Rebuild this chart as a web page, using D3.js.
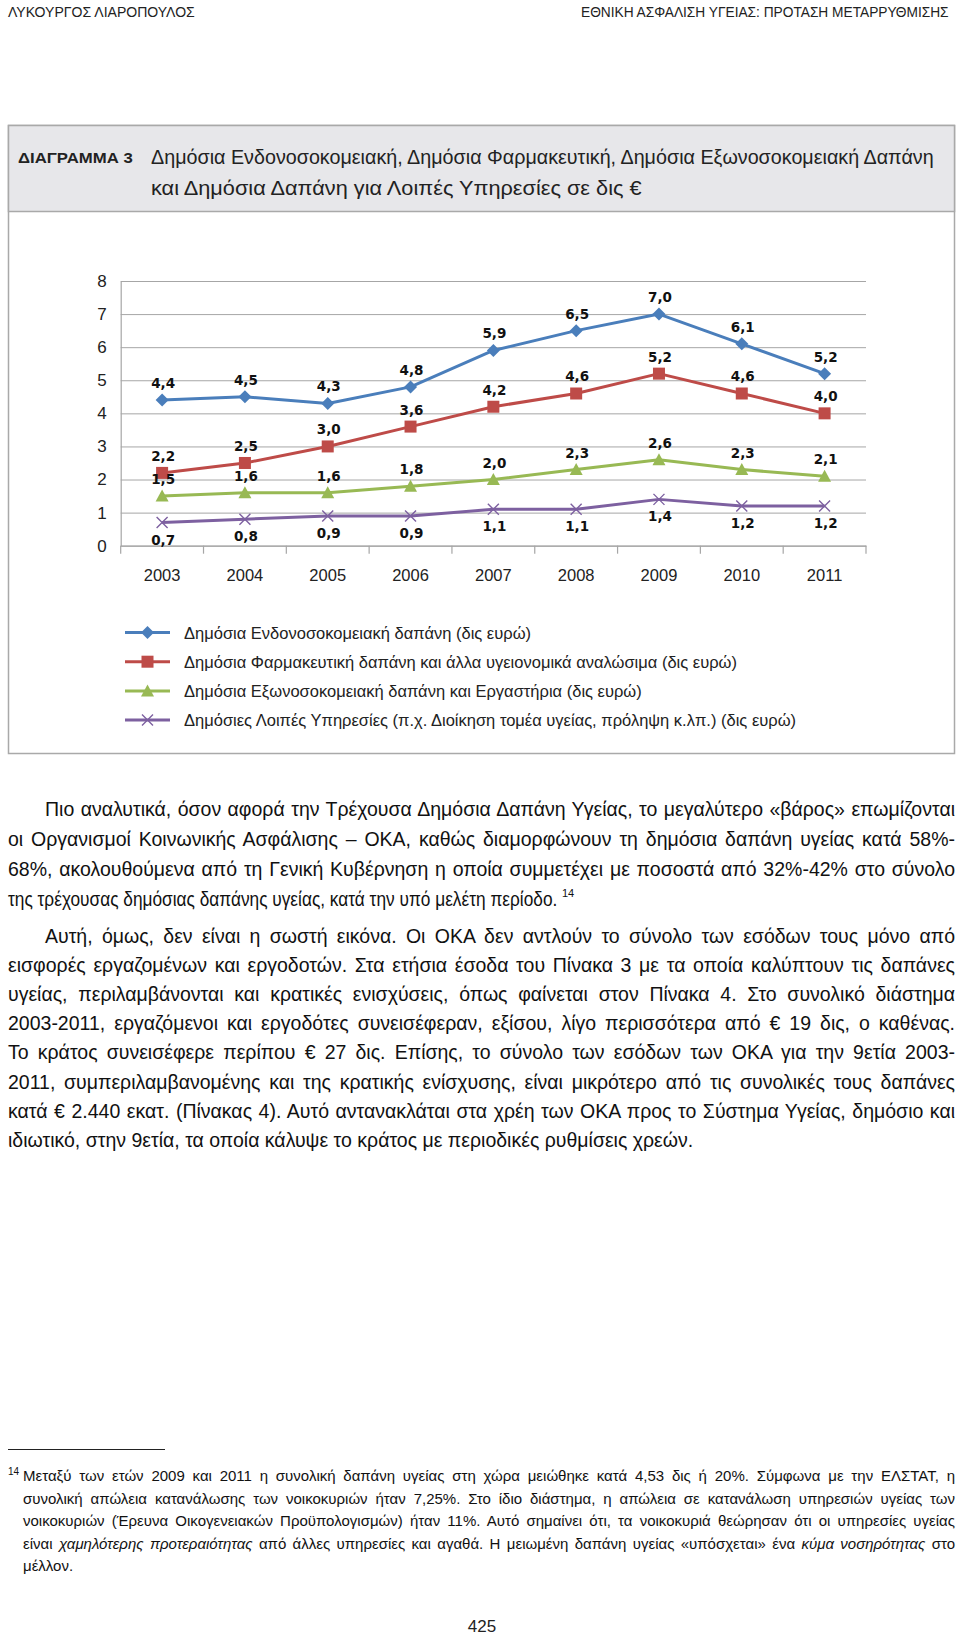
<!DOCTYPE html>
<html><head><meta charset="utf-8">
<script src="https://cdn.jsdelivr.net/npm/d3@7"></script>
<style>body{margin:0;background:#fff} svg{display:block}</style>
</head><body>
<svg id="page" width="960" height="1636"></svg>
<script>
// ---------- DATA ----------
const years = ["2003","2004","2005","2006","2007","2008","2009","2010","2011"];
const hospital   = [4.4,4.5,4.3,4.8,5.9,6.5,7.0,6.1,5.2];
const pharma     = [2.2,2.5,3.0,3.6,4.2,4.6,5.2,4.6,4.0];
const outpatient = [1.5,1.6,1.6,1.8,2.0,2.3,2.6,2.3,2.1];
const otherServ  = [0.7,0.8,0.9,0.9,1.1,1.1,1.4,1.2,1.2];
const seriesNames = [
  "Δημόσια Ενδονοσοκομειακή δαπάνη (δις ευρώ)",
  "Δημόσια Φαρμακευτική δαπάνη και άλλα υγειονομικά αναλώσιμα (δις ευρώ)",
  "Δημόσια Εξωνοσοκομειακή δαπάνη και Εργαστήρια (δις ευρώ)",
  "Δημόσιες Λοιπές Υπηρεσίες (π.χ. Διοίκηση τομέα υγείας, πρόληψη κ.λπ.) (δις ευρώ)"
];
const yTicks = [0,1,2,3,4,5,6,7,8];

const runningHeadLeft = "ΛΥΚΟΥΡΓΟΣ ΛΙΑΡΟΠΟΥΛΟΣ";
const runningHeadRight = "ΕΘΝΙΚΗ ΑΣΦΑΛΙΣΗ ΥΓΕΙΑΣ: ΠΡΟΤΑΣΗ ΜΕΤΑΡΡΥΘΜΙΣΗΣ";
const figLabel = "ΔΙΑΓΡΑΜΜΑ 3";
const figTitle = ["Δημόσια Ενδονοσοκομειακή, Δημόσια Φαρμακευτική, Δημόσια Εξωνοσοκομειακή Δαπάνη",
                  "και Δημόσια Δαπάνη για Λοιπές Υπηρεσίες σε δις €"];
const para1 = [
  "Πιο αναλυτικά, όσον αφορά την Τρέχουσα Δημόσια Δαπάνη Υγείας, το μεγαλύτερο «βάρος» επωμίζονται",
  "οι Οργανισμοί Κοινωνικής Ασφάλισης – ΟΚΑ, καθώς διαμορφώνουν τη δημόσια δαπάνη υγείας κατά 58%-",
  "68%, ακολουθούμενα από τη Γενική Κυβέρνηση η οποία συμμετέχει με ποσοστά από 32%-42% στο σύνολο",
  "της τρέχουσας δημόσιας δαπάνης υγείας, κατά την υπό μελέτη περίοδο."
];
const para2 = [
  "Αυτή, όμως, δεν είναι η σωστή εικόνα. Οι ΟΚΑ δεν αντλούν το σύνολο των εσόδων τους μόνο από",
  "εισφορές εργαζομένων και εργοδοτών. Στα ετήσια έσοδα του Πίνακα 3 με τα οποία καλύπτουν τις δαπάνες",
  "υγείας, περιλαμβάνονται και κρατικές ενισχύσεις, όπως φαίνεται στον Πίνακα 4. Στο συνολικό διάστημα",
  "2003-2011, εργαζόμενοι και εργοδότες συνεισέφεραν, εξίσου, λίγο περισσότερα από € 19 δις, ο καθένας.",
  "Το κράτος συνεισέφερε περίπου € 27 δις. Επίσης, το σύνολο των εσόδων των ΟΚΑ για την 9ετία 2003-",
  "2011, συμπεριλαμβανομένης και της κρατικής ενίσχυσης, είναι μικρότερο από τις συνολικές τους δαπάνες",
  "κατά € 2.440 εκατ. (Πίνακας 4). Αυτό αντανακλάται στα χρέη των ΟΚΑ προς το Σύστημα Υγείας, δημόσιο και",
  "ιδιωτικό, στην 9ετία, τα οποία κάλυψε το κράτος με περιοδικές ρυθμίσεις χρεών."
];
// footnote lines: arrays of [text, italic]
const footnote = [
  [["Μεταξύ των ετών 2009 και 2011 η συνολική δαπάνη υγείας στη χώρα μειώθηκε κατά 4,53 δις ή 20%. Σύμφωνα με την ΕΛΣΤΑΤ, η", false]],
  [["συνολική απώλεια κατανάλωσης των νοικοκυριών ήταν 7,25%. Στο ίδιο διάστημα, η απώλεια σε κατανάλωση υπηρεσιών υγείας των", false]],
  [["νοικοκυριών (Έρευνα Οικογενειακών Προϋπολογισμών) ήταν 11%. Αυτό σημαίνει ότι, τα νοικοκυριά θεώρησαν ότι οι υπηρεσίες υγείας", false]],
  [["είναι ", false],["χαμηλότερης προτεραιότητας", true],[" από άλλες υπηρεσίες και αγαθά. Η μειωμένη δαπάνη υγείας «υπόσχεται» ένα ", false],["κύμα νοσηρότητας", true],[" στο", false]],
  [["μέλλον.", false]]
];
const footnoteMark = "14";
const pageNumber = "425";

// ---------- LAYOUT ----------
const svg = d3.select("#page");
const TXT = "'Liberation Sans', Arial, sans-serif";
const blue="#4a7ebb", red="#be4b48", green="#98b954", purple="#7d60a0";

// horizontal scaling of a start-anchored text so that it spans `width`
function fit(sel, width){
  const w = sel.node().getComputedTextLength();
  const x0 = +sel.attr("x");
  const sx = width / w;
  sel.attr("transform", `translate(${x0},0) scale(${sx},1) translate(${-x0},0)`);
}
function justify(sel, width){
  const node = sel.node();
  const w = node.getComputedTextLength();
  const n = (node.textContent.match(/ /g)||[]).length;
  if (w < width && n > 0) {
    sel.style("word-spacing", ((width - w)/n) + "px");
    const w2 = node.getComputedTextLength();
    if (Math.abs(w2 - width) > 3) { sel.style("word-spacing", null); sel.attr("textLength", width).attr("lengthAdjust","spacing"); }
  } else if (w > width) fit(sel, width);
}

// running heads
fit(svg.append("text").attr("x",8).attr("y",17).attr("font-family",TXT).attr("font-size",15).attr("fill","#222").text(runningHeadLeft), 187);
fit(svg.append("text").attr("x",581).attr("y",17).attr("font-family",TXT).attr("font-size",15).attr("fill","#222").text(runningHeadRight), 368);

// figure box
svg.append("rect").attr("x",8.5).attr("y",125.5).attr("width",946).attr("height",628)
  .attr("fill","#fff").attr("stroke","#a9a9a9").attr("stroke-width",1.5);
svg.append("rect").attr("x",8.5).attr("y",125.5).attr("width",946).attr("height",86)
  .attr("fill","#e7e7ea").attr("stroke","#a9a9a9").attr("stroke-width",1.5);
fit(svg.append("text").attr("x",18).attr("y",163).attr("font-family",TXT).attr("font-weight","bold")
  .attr("font-size",15).attr("fill","#222").text(figLabel), 115);
fit(svg.append("text").attr("x",151).attr("y",164).attr("font-family",TXT).attr("font-size",19.5).attr("fill","#222").text(figTitle[0]), 783);
fit(svg.append("text").attr("x",151).attr("y",195).attr("font-family",TXT).attr("font-size",19.5).attr("fill","#222").text(figTitle[1]), 491);

// ---------- CHART ----------
const x = d3.scaleBand().domain(years).range([120.7, 866]);
const y = d3.scaleLinear().domain([0,8]).range([545.7, 281]);
const cx = d => x(d) + x.bandwidth()/2;
const g = svg.append("g");
const gridCol = "#a6a6a6";

// gridlines
const grid = g.append("g").call(d3.axisLeft(y).tickValues(yTicks).tickSize(-(x.range()[1]-x.range()[0])).tickFormat(""))
  .attr("transform", `translate(${x.range()[0]},0)`);
grid.select(".domain").remove();
grid.selectAll("line").attr("stroke", gridCol).attr("stroke-width",1);

// y axis labels + line
const yAx = g.append("g").attr("transform", `translate(${x.range()[0]},0)`)
  .call(d3.axisLeft(y).tickValues(yTicks).tickSize(0).tickPadding(14).tickFormat(d3.format("d")));
yAx.select(".domain").attr("stroke", gridCol).attr("stroke-width",1.2);
yAx.selectAll("text").attr("font-family",TXT).attr("font-size",17).attr("fill","#222");

// x axis
const xAx = g.append("g").attr("transform", `translate(0,${y(0)})`)
  .call(d3.axisBottom(x).tickSize(0).tickPadding(24));
xAx.select(".domain").attr("stroke", gridCol).attr("stroke-width",1.2);
xAx.selectAll("text").attr("font-family",TXT).attr("font-size",16.5).attr("fill","#222");
// boundary ticks
const bounds = years.map(d => x(d)).concat([x.range()[1]]);
g.append("g").selectAll("line").data(bounds).join("line")
  .attr("x1", d=>d).attr("x2", d=>d).attr("y1", y(0)).attr("y2", y(0)+8)
  .attr("stroke", gridCol).attr("stroke-width",1.2);

// series
const series = [
  {name: seriesNames[0], values: hospital,   color: blue,   marker: "diamond", pos: "above"},
  {name: seriesNames[1], values: pharma,     color: red,    marker: "square",  pos: "above"},
  {name: seriesNames[2], values: outpatient, color: green,  marker: "triangle",pos: "above"},
  {name: seriesNames[3], values: otherServ,  color: purple, marker: "x",       pos: "below"}
];
const line = d3.line().x(d => cx(d.year)).y(d => y(d.v));

function drawMarker(sel, type, color){
  if (type === "diamond") sel.append("path").attr("d","M0,-6.5L6.5,0L0,6.5L-6.5,0Z").attr("fill",color);
  else if (type === "square") sel.append("rect").attr("x",-6).attr("y",-6).attr("width",12).attr("height",12).attr("fill",color);
  else if (type === "triangle") sel.append("path").attr("d","M0,-6.5L6.5,5.5L-6.5,5.5Z").attr("fill",color);
  else sel.append("path").attr("d","M-5.5,-5.5L5.5,5.5M-5.5,5.5L5.5,-5.5").attr("stroke",color).attr("stroke-width",1.4).attr("fill","none");
}
const numFmt = v => d3.format(".1f")(v).replace(".", ",");

series.forEach(s => {
  const pts = years.map((yr,i) => ({year: yr, v: s.values[i]}));
  g.append("path").datum(pts).attr("d", line).attr("fill","none")
    .attr("stroke", s.color).attr("stroke-width", 3).attr("stroke-linejoin","round");
  g.append("g").selectAll("g").data(pts).join("g")
    .attr("transform", d => `translate(${cx(d.year)},${y(d.v)})`)
    .each(function(){ drawMarker(d3.select(this), s.marker, s.color); });
  g.append("g").selectAll("text").data(pts).join("text")
    .attr("x", d => cx(d.year)+1)
    .attr("y", d => s.pos === "above" ? y(d.v) - 12 : y(d.v) + 22)
    .attr("text-anchor","middle").attr("font-family","'DejaVu Sans', sans-serif")
    .attr("font-weight","bold").attr("font-size",13.5).attr("fill","#111")
    .text(d => numFmt(d.v));
});

// legend
const leg = svg.append("g");
series.forEach((s,i) => {
  const ly = 632.5 + i*29.2;
  const r = leg.append("g");
  r.append("line").attr("x1",125).attr("x2",170).attr("y1",ly).attr("y2",ly).attr("stroke",s.color).attr("stroke-width",3);
  drawMarker(r.append("g").attr("transform",`translate(147.5,${ly})`), s.marker, s.color);
  r.append("text").attr("x",184).attr("y",ly+6).attr("font-family",TXT).attr("font-size",16.5).attr("fill","#222").text(s.name);
});

// ---------- BODY TEXT ----------
const bodyFS = 19.5, left = 8, right = 955, indent = 45;
function paragraph(lines, y0, step, lastWidth){
  let lastEnd = 0;
  lines.forEach((t,i) => {
    const x0 = i === 0 ? indent : left;
    const sel = svg.append("text").attr("x",x0).attr("y",y0 + i*step).attr("font-family",TXT)
      .attr("font-size",bodyFS).attr("fill","#111").text(t);
    if (i < lines.length-1) justify(sel, right - x0);
    else {
      const w = sel.node().getComputedTextLength();
      const tw = Math.min(w, lastWidth);
      if (w > lastWidth) fit(sel, lastWidth);
      lastEnd = x0 + tw;
    }
  });
  return lastEnd;
}
const end1 = paragraph(para1, 815.5, 30.2, 550);
svg.append("text").attr("x", end1 + 4).attr("y", 815.5 + 3*30.2 - 9).attr("font-family",TXT)
  .attr("font-size",11).attr("fill","#111").text(footnoteMark);
paragraph(para2, 942.5, 29.2, 715);

// footnote rule
svg.append("line").attr("x1",8).attr("x2",165).attr("y1",1449.5).attr("y2",1449.5).attr("stroke","#222").attr("stroke-width",1.2);
svg.append("text").attr("x",8).attr("y",1475).attr("font-family",TXT).attr("font-size",10).attr("fill","#111").text(footnoteMark);
footnote.forEach((parts,i) => {
  const t = svg.append("text").attr("x",23).attr("y",1481 + i*22.6).attr("font-family",TXT)
    .attr("font-size",15).attr("fill","#111");
  parts.forEach(([s,it]) => t.append("tspan").attr("font-style", it ? "italic" : "normal").text(s));
  if (i < footnote.length-1) justify(t, right - 23);
});

svg.append("text").attr("x",482).attr("y",1632).attr("text-anchor","middle").attr("font-family",TXT)
  .attr("font-size",17).attr("fill","#222").text(pageNumber);
</script>
</body></html>
